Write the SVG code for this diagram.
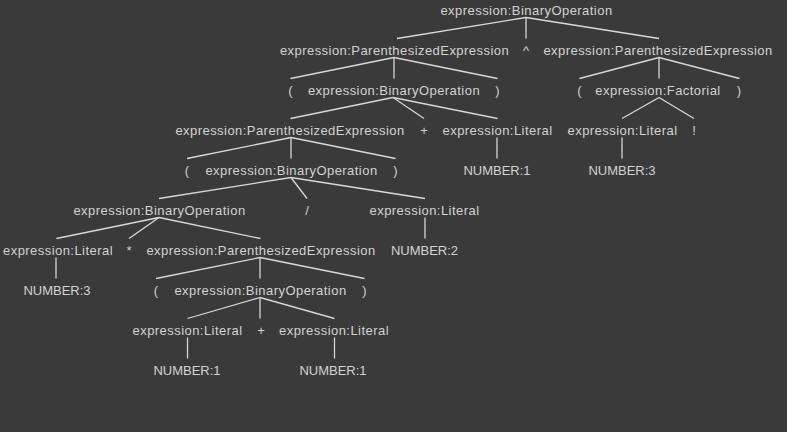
<svg xmlns="http://www.w3.org/2000/svg" width="787" height="432" viewBox="0 0 787 432">
<style>
text{font-family:"Liberation Sans",Arial,sans-serif;font-size:13px;fill:#d2d2d2;text-anchor:middle}
.e{letter-spacing:0.45px}
#edges line{stroke:#d8d8d8;stroke-width:1.3}
</style>
<rect width="787" height="432" fill="#3a3a3a"/>
<g id="edges">
<line x1="526" y1="17.5" x2="397" y2="38.5"/>
<line x1="526" y1="17.5" x2="526" y2="38.5"/>
<line x1="526" y1="17.5" x2="659" y2="38.5"/>
<line x1="394" y1="57.5" x2="290.5" y2="78.5"/>
<line x1="394" y1="57.5" x2="394" y2="78.5"/>
<line x1="394" y1="57.5" x2="497.5" y2="78.5"/>
<line x1="659" y1="57.5" x2="579.5" y2="78.5"/>
<line x1="659" y1="57.5" x2="659" y2="78.5"/>
<line x1="659" y1="57.5" x2="739.5" y2="78.5"/>
<line x1="393" y1="97.5" x2="290.5" y2="118.5"/>
<line x1="393" y1="97.5" x2="424" y2="118.5"/>
<line x1="393" y1="97.5" x2="497.5" y2="118.5"/>
<line x1="659" y1="97.5" x2="622" y2="118.5"/>
<line x1="659" y1="97.5" x2="694" y2="118.5"/>
<line x1="291" y1="137.5" x2="187" y2="158.5"/>
<line x1="291" y1="137.5" x2="291" y2="158.5"/>
<line x1="291" y1="137.5" x2="395.5" y2="158.5"/>
<line x1="497" y1="137.5" x2="497" y2="158.5"/>
<line x1="622" y1="137.5" x2="622" y2="158.5"/>
<line x1="291" y1="177.5" x2="159" y2="198.5"/>
<line x1="291" y1="177.5" x2="307" y2="198.5"/>
<line x1="291" y1="177.5" x2="425" y2="198.5"/>
<line x1="159" y1="217.5" x2="56.5" y2="238.5"/>
<line x1="159" y1="217.5" x2="129" y2="238.5"/>
<line x1="159" y1="217.5" x2="260.5" y2="238.5"/>
<line x1="425" y1="217.5" x2="425" y2="238.5"/>
<line x1="56" y1="257.5" x2="56" y2="278.5"/>
<line x1="260" y1="257.5" x2="156" y2="278.5"/>
<line x1="260" y1="257.5" x2="260" y2="278.5"/>
<line x1="260" y1="257.5" x2="364.5" y2="278.5"/>
<line x1="260" y1="297.5" x2="187.5" y2="318.5"/>
<line x1="260" y1="297.5" x2="260" y2="318.5"/>
<line x1="260" y1="297.5" x2="334.5" y2="318.5"/>
<line x1="187.5" y1="337.5" x2="187.5" y2="358.5"/>
<line x1="334.5" y1="337.5" x2="334.5" y2="358.5"/>
</g>
<g id="n0"><text class="e" x="526.5" y="15">expression:BinaryOperation</text></g>
<g id="n1"><text class="e" x="394.5" y="55">expression:ParenthesizedExpression</text></g>
<g id="n2"><text x="526" y="55">^</text></g>
<g id="n3"><text class="e" x="658" y="55">expression:ParenthesizedExpression</text></g>
<g id="n4"><text x="290.5" y="95">(</text></g>
<g id="n5"><text class="e" x="394" y="95">expression:BinaryOperation</text></g>
<g id="n6"><text x="497.5" y="95">)</text></g>
<g id="n7"><text x="579.5" y="95">(</text></g>
<g id="n8"><text class="e" x="658" y="95">expression:Factorial</text></g>
<g id="n9"><text x="739" y="95">)</text></g>
<g id="n10"><text class="e" x="290" y="135">expression:ParenthesizedExpression</text></g>
<g id="n11"><text x="424" y="135">+</text></g>
<g id="n12"><text class="e" x="497.5" y="135">expression:Literal</text></g>
<g id="n13"><text class="e" x="622.5" y="135">expression:Literal</text></g>
<g id="n14"><text x="694" y="135">!</text></g>
<g id="n15"><text x="187" y="175">(</text></g>
<g id="n16"><text class="e" x="291.5" y="175">expression:BinaryOperation</text></g>
<g id="n17"><text x="395.5" y="175">)</text></g>
<g id="n18"><text x="497" y="175">NUMBER:1</text></g>
<g id="n19"><text x="622" y="175">NUMBER:3</text></g>
<g id="n20"><text class="e" x="159.5" y="215">expression:BinaryOperation</text></g>
<g id="n21"><text x="307" y="215">/</text></g>
<g id="n22"><text class="e" x="424.5" y="215">expression:Literal</text></g>
<g id="n23"><text class="e" x="58" y="255">expression:Literal</text></g>
<g id="n24"><text x="129" y="255">*</text></g>
<g id="n25"><text class="e" x="261" y="255">expression:ParenthesizedExpression</text></g>
<g id="n26"><text x="424.5" y="255">NUMBER:2</text></g>
<g id="n27"><text x="57" y="295">NUMBER:3</text></g>
<g id="n28"><text x="156" y="295">(</text></g>
<g id="n29"><text class="e" x="260.5" y="295">expression:BinaryOperation</text></g>
<g id="n30"><text x="364.5" y="295">)</text></g>
<g id="n31"><text class="e" x="187.5" y="335">expression:Literal</text></g>
<g id="n32"><text x="261" y="335">+</text></g>
<g id="n33"><text class="e" x="334" y="335">expression:Literal</text></g>
<g id="n34"><text x="187" y="375">NUMBER:1</text></g>
<g id="n35"><text x="333" y="375">NUMBER:1</text></g>
</svg>
